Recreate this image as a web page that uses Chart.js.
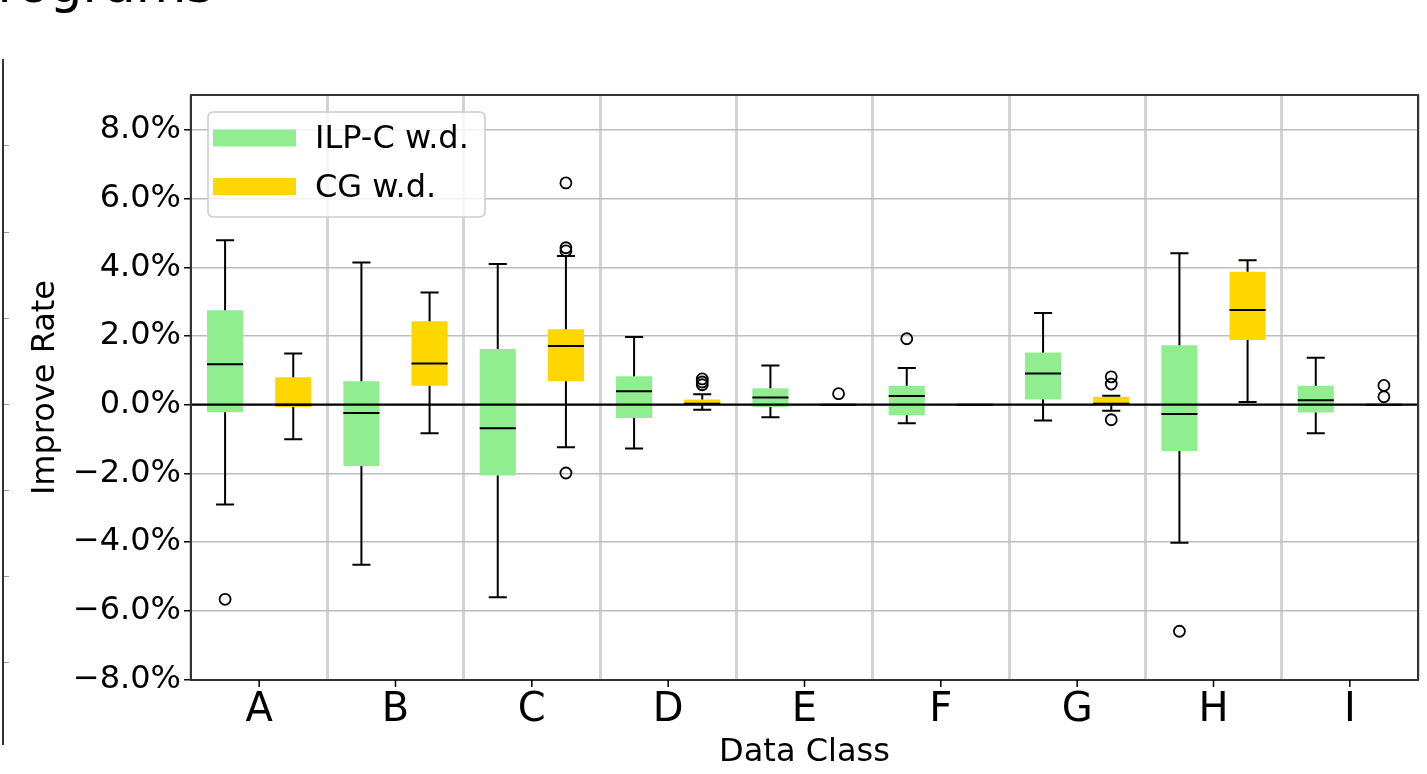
<!DOCTYPE html>
<html>
<head>
<meta charset="utf-8">
<script src="https://cdn.jsdelivr.net/npm/chart.js@4.4.0/dist/chart.umd.min.js"></script>
<style>
  html, body { margin: 0; padding: 0; background: #fff; overflow: hidden; }
  #wrap { position: relative; width: 1427px; height: 774px; overflow: hidden; }
  #cut-title { position: absolute; left: -33px; top: -42px; font-family: 'DejaVu Sans'; font-size: 52px; line-height: 52px; color: #000; white-space: nowrap; }
  #left-frame { position: absolute; left: 0; top: 59px; width: 2px; height: 686px; border-right: 2px solid #333; }
  .left-tick { position: absolute; left: 4px; width: 5px; height: 1px; background: #999; }
  #chart { position: absolute; left: 0; top: 0; }
</style>
</head>
<body>
<div id="wrap">
  <div id="cut-title">Programs</div>
  <div id="left-frame"></div>
  <div class="left-tick" style="top:145px"></div>
  <div class="left-tick" style="top:232px"></div>
  <div class="left-tick" style="top:318px"></div>
  <div class="left-tick" style="top:404px"></div>
  <div class="left-tick" style="top:490px"></div>
  <div class="left-tick" style="top:576px"></div>
  <div class="left-tick" style="top:662px"></div>
  <canvas id="chart" width="1427" height="774"></canvas>
</div>
<script>
// categorias e séries (valores em %)
const categories = ['A', 'B', 'C', 'D', 'E', 'F', 'G', 'H', 'I'];
const seriesNames = ['ILP-C w.d.', 'CG w.d.'];
const yTicks = [-8, -6, -4, -2, 0, 2, 4, 6, 8];

// ILP-C w.d.
const ilpcLow      = [-2.91, -4.66, -5.61, -1.28, -0.37, -0.54, -0.46, -4.02, -0.83];
const ilpcQ1       = [-0.22, -1.79, -2.06, -0.39, -0.07, -0.31,  0.15, -1.35, -0.23];
const ilpcMedian   = [ 1.18, -0.24, -0.69,  0.39,  0.21,  0.25,  0.91, -0.27,  0.13];
const ilpcQ3       = [ 2.75,  0.68,  1.62,  0.83,  0.48,  0.55,  1.52,  1.73,  0.55];
const ilpcHigh     = [ 4.79,  4.14,  4.10,  1.97,  1.14,  1.07,  2.67,  4.41,  1.37];
const ilpcOutliers = [[-5.67], [], [], [], [], [1.92], [], [-6.60], []];

// CG w.d.
const cgLow      = [-1.01, -0.83, -1.24, -0.15, 0, 0, -0.18, 0.08, 0];
const cgQ1       = [-0.07,  0.55,  0.68,  0.00, 0, 0,  0.00, 1.88, 0];
const cgMedian   = [ 0.00,  1.20,  1.71,  0.03, 0, 0,  0.03, 2.76, 0];
const cgQ3       = [ 0.80,  2.43,  2.20,  0.15, 0, 0,  0.23, 3.87, 0];
const cgHigh     = [ 1.49,  3.27,  4.33,  0.30, 0, 0,  0.26, 4.21, 0];
const cgOutliers = [[], [], [6.46, 4.57, 4.48, -1.99], [0.75, 0.66, 0.58], [0.32], [], [0.81, 0.60, -0.44], [], [0.56, 0.23]];

const boxStats = [
    { low: ilpcLow, q1: ilpcQ1, med: ilpcMedian, q3: ilpcQ3, high: ilpcHigh, out: ilpcOutliers },
    { low: cgLow, q1: cgQ1, med: cgMedian, q3: cgQ3, high: cgHigh, out: cgOutliers }
];

const FONT = 'DejaVu Sans';

// whiskers, medianas, outliers, linha do zero e moldura
const boxExtras = {
    id: 'boxExtras',
    afterDatasetsDraw(chart) {
        const ctx = chart.ctx;
        const y = chart.scales.y;
        const a = chart.chartArea;
        const py = v => y.getPixelForValue(v);
        ctx.save();
        ctx.beginPath();
        ctx.rect(a.left, a.top, a.right - a.left, a.bottom - a.top);
        ctx.clip();
        ctx.strokeStyle = '#000';
        chart.data.datasets.forEach((ds, d) => {
            const st = boxStats[d];
            chart.getDatasetMeta(d).data.forEach((bar, i) => {
                const x = bar.x, half = bar.width / 2, cap = bar.width / 4;
                ctx.lineWidth = 2;
                ctx.beginPath();
                ctx.moveTo(x, py(st.q3[i])); ctx.lineTo(x, py(st.high[i]));
                ctx.moveTo(x, py(st.q1[i])); ctx.lineTo(x, py(st.low[i]));
                ctx.moveTo(x - cap, py(st.high[i])); ctx.lineTo(x + cap, py(st.high[i]));
                ctx.moveTo(x - cap, py(st.low[i])); ctx.lineTo(x + cap, py(st.low[i]));
                ctx.moveTo(x - half, py(st.med[i])); ctx.lineTo(x + half, py(st.med[i]));
                ctx.stroke();
                ctx.lineWidth = 1.8;
                st.out[i].forEach(v => {
                    ctx.beginPath();
                    ctx.arc(x, py(v), 5.5, 0, Math.PI * 2);
                    ctx.stroke();
                });
            });
        });
        // linha horizontal em 0
        ctx.lineWidth = 2.2;
        ctx.beginPath();
        ctx.moveTo(a.left, py(0));
        ctx.lineTo(a.right, py(0));
        ctx.stroke();
        ctx.restore();

        // moldura
        ctx.save();
        ctx.strokeStyle = '#333';
        ctx.lineWidth = 2;
        ctx.strokeRect(a.left, a.top, a.right - a.left, a.bottom - a.top);
        // marcas do eixo x no centro das categorias
        const xs = chart.scales.x;
        ctx.strokeStyle = '#000';
        ctx.lineWidth = 1.5;
        ctx.beginPath();
        categories.forEach((c, i) => {
            const x = xs.getPixelForValue(i);
            ctx.moveTo(x, a.bottom);
            ctx.lineTo(x, a.bottom + 7);
        });
        ctx.stroke();
        ctx.restore();
    }
};

// legenda dentro da área do gráfico
const legendBox = {
    id: 'legendBox',
    afterDraw(chart) {
        const ctx = chart.ctx;
        const a = chart.chartArea;
        const bx = a.left + 17, by = a.top + 17, bw = 277, bh = 105;
        ctx.save();
        ctx.fillStyle = 'rgba(255,255,255,0.8)';
        ctx.strokeStyle = '#cccccc';
        ctx.lineWidth = 1.5;
        ctx.beginPath();
        ctx.roundRect(bx, by, bw, bh, 5);
        ctx.fill();
        ctx.stroke();
        ctx.font = '32px "' + FONT + '"';
        ctx.textBaseline = 'middle';
        chart.data.datasets.forEach((ds, i) => {
            const cy = by + 26 + i * 48.5;
            ctx.fillStyle = ds.backgroundColor;
            ctx.fillRect(bx + 5, cy - 8.5, 83, 17);
            ctx.fillStyle = '#000';
            ctx.fillText(ds.label, bx + 107, cy + 2);
        });
        ctx.restore();
    }
};

const ctx1 = document.getElementById('chart').getContext('2d');
const chart1 = new Chart(ctx1, {
    type: 'bar',
    data: {
        labels: categories,
        datasets: [{
            label: seriesNames[0],
            data: categories.map((c, i) => [ilpcQ1[i], ilpcQ3[i]]),
            backgroundColor: '#90ee90',
            borderWidth: 0,
            barPercentage: 0.53,
            categoryPercentage: 1.0
        }, {
            label: seriesNames[1],
            data: categories.map((c, i) => [cgQ1[i], cgQ3[i]]),
            backgroundColor: '#ffd700',
            borderWidth: 0,
            barPercentage: 0.53,
            categoryPercentage: 1.0
        }]
    },
    options: {
        responsive: false,
        animation: false,
        devicePixelRatio: 1,
        layout: { padding: { top: 95, right: 9, left: 0, bottom: 0 } },
        scales: {
            x: {
                offset: true,
                afterFit: s => { s.height = 94; },
                grid: { offset: true, color: '#d3d3d3', lineWidth: 3, drawTicks: false },
                border: { display: false },
                ticks: { color: '#000', font: { family: FONT, size: 40 }, padding: 7 },
                title: {
                    display: true, text: 'Data Class', color: '#000',
                    font: { family: FONT, size: 32 }, padding: { top: 0, bottom: 2 }
                }
            },
            y: {
                min: -8.02,
                max: 9.02,
                afterBuildTicks: s => { s.ticks = yTicks.map(v => ({ value: v })); },
                afterFit: s => { s.width = 191; },
                grid: { color: '#bdbdbd', lineWidth: 1.5, tickColor: '#000', tickLength: 7 },
                border: { display: false },
                ticks: {
                    color: '#000',
                    font: { family: FONT, size: 32 },
                    padding: 3,
                    callback: v => (v < 0 ? '\u2212' : '') + Math.abs(v).toFixed(1) + '%'
                },
                title: {
                    display: true, text: 'Improve Rate', color: '#000',
                    font: { family: FONT, size: 32 }, padding: { top: 26, bottom: 0 }
                }
            }
        },
        plugins: {
            legend: { display: false },
            tooltip: { enabled: false }
        }
    },
    plugins: [boxExtras, legendBox]
});
</script>
</body>
</html>
